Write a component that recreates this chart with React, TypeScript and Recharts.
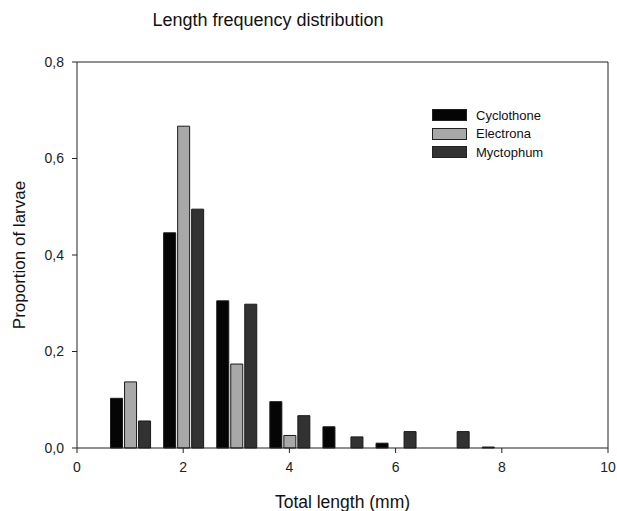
import { Bar, BarChart, ReferenceLine, XAxis, YAxis } from "recharts";

const FONT = "'Liberation Sans', Arial, sans-serif";

// bin centres (mm)
const lengths = [1, 2, 3, 4, 5, 6, 7, 8];
const cyclothone = [0.103, 0.446, 0.305, 0.096, 0.044, 0.01, null, 0.002];
const electrona = [0.137, 0.667, 0.174, 0.026, null, null, null, null];
const myctophum = [0.056, 0.495, 0.298, 0.067, 0.023, 0.034, 0.034, null];

const xTicks = [0, 2, 4, 6, 8, 10];
const yTicks = [0, 0.2, 0.4, 0.6, 0.8];

const SERIES = [
  { key: "cyclothone", name: "Cyclothone", fill: "#050505" },
  { key: "electrona", name: "Electrona", fill: "#a8a8a8" },
  { key: "myctophum", name: "Myctophum", fill: "#323232" },
];

const data = lengths.map((x, i) => ({
  x,
  cyclothone: cyclothone[i],
  electrona: electrona[i],
  myctophum: myctophum[i],
}));

const fmtY = (v: number) => v.toFixed(1).replace(".", ",");

function LegendBox() {
  return (
    <div
      style={{
        position: "absolute",
        top: 106,
        left: 432,
        fontFamily: FONT,
        fontSize: 13,
        color: "#111",
      }}
    >
      {SERIES.map((s) => (
        <div
          key={s.key}
          style={{ display: "flex", alignItems: "center", height: 18.5 }}
        >
          <span
            style={{
              display: "inline-block",
              width: 33,
              height: 10,
              background: s.fill,
              border: "1px solid #222",
              marginRight: 9,
            }}
          />
          <span>{s.name}</span>
        </div>
      ))}
    </div>
  );
}

export default function App() {
  return (
    <div
      style={{
        position: "absolute",
        left: 0,
        top: 0,
        width: 617,
        height: 511,
        background: "#fff",
        fontFamily: FONT,
      }}
    >
      <div
        style={{
          position: "absolute",
          top: 10,
          left: 0,
          width: 536,
          textAlign: "center",
          fontSize: 18,
          color: "#111",
        }}
      >
        Length frequency distribution
      </div>
      <BarChart
        width={617}
        height={511}
        data={data}
        margin={{ top: 62, right: 9, left: 0, bottom: 0 }}
        barSize={12}
        barGap={2}
      >
        <XAxis
          dataKey="x"
          type="number"
          domain={[0, 10]}
          ticks={xTicks}
          allowDecimals={false}
          height={63}
          stroke="#222"
          tickSize={5}
          tickMargin={9}
          tick={{ fill: "#222", fontSize: 14, fontFamily: FONT }}
          label={{
            value: "Total length (mm)",
            position: "insideBottom",
            offset: 3,
            fill: "#111",
            fontSize: 17.5,
            fontFamily: FONT,
          }}
        />
        <YAxis
          type="number"
          domain={[0, 0.8]}
          ticks={yTicks}
          width={77}
          stroke="#222"
          tickSize={5}
          tickMargin={8}
          tickFormatter={fmtY}
          tick={{ fill: "#222", fontSize: 14, fontFamily: FONT }}
          label={{
            value: "Proportion of larvae",
            angle: -90,
            position: "insideLeft",
            offset: 19,
            style: { textAnchor: "middle" },
            fill: "#111",
            fontSize: 17,
            fontFamily: FONT,
          }}
        />
        <ReferenceLine y={0.8} stroke="#222" />
        <ReferenceLine x={10} stroke="#222" />
        {SERIES.map((s) => (
          <Bar
            key={s.key}
            dataKey={s.key}
            name={s.name}
            fill={s.fill}
            stroke="#1a1a1a"
            strokeWidth={1}
            isAnimationActive={false}
          />
        ))}
      </BarChart>
      <LegendBox />
    </div>
  );
}
